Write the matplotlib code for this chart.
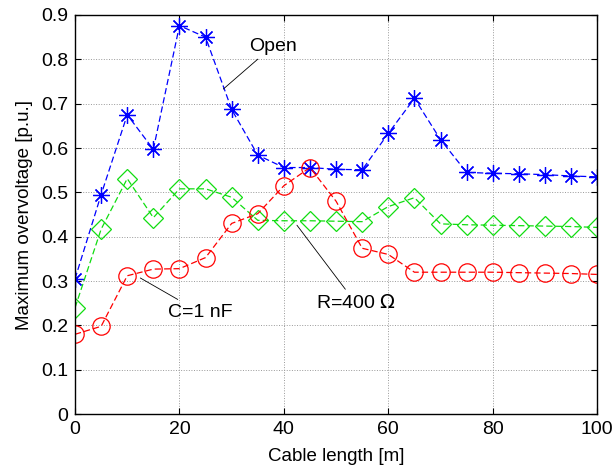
import numpy as np
import matplotlib
matplotlib.use('Agg')
import matplotlib.pyplot as plt

# cable length [m]
length = [0, 5, 10, 15, 20, 25, 30, 35, 40, 45, 50, 55, 60, 65, 70, 75, 80, 85, 90, 95, 100]

# maximum overvoltage [p.u.] for each termination
v_open = [0.305, 0.495, 0.675, 0.597, 0.876, 0.850, 0.687, 0.584, 0.556, 0.556, 0.552,
          0.551, 0.633, 0.712, 0.619, 0.545, 0.543, 0.542, 0.540, 0.537, 0.535]
v_r400 = [0.240, 0.417, 0.531, 0.443, 0.508, 0.508, 0.489, 0.437, 0.436, 0.436, 0.435,
          0.434, 0.468, 0.488, 0.429, 0.427, 0.426, 0.425, 0.424, 0.423, 0.421]
v_c1nf = [0.180, 0.198, 0.312, 0.327, 0.328, 0.353, 0.430, 0.452, 0.515, 0.556, 0.480,
          0.374, 0.360, 0.320, 0.320, 0.320, 0.320, 0.319, 0.318, 0.317, 0.315]

plt.rcParams['font.family'] = ['Liberation Sans', 'DejaVu Sans']
plt.rcParams['font.size'] = 14

fig = plt.figure(figsize=(6.15, 4.76), dpi=100)
ax = fig.add_axes([0.122, 0.130, 0.849, 0.8385])

ax.plot(length, v_open, linestyle='--', dashes=(5, 2.5), color='#0000ff', lw=0.9,
        marker=(8, 2, 0), markersize=12, markeredgewidth=0.9)
ax.plot(length, v_r400, linestyle='--', dashes=(5, 2.5), color='#11dd11', lw=0.9,
        marker='D', markersize=10, markerfacecolor='none', markeredgewidth=0.9)
ax.plot(length, v_c1nf, linestyle='--', dashes=(5, 2.5), color='#ff0000', lw=0.9,
        marker='o', markersize=12.5, markerfacecolor='none', markeredgewidth=0.9)

arrow = dict(arrowstyle='-', color='k', lw=0.6, shrinkA=2, shrinkB=0)
ax.annotate('Open', xy=(28.4, 0.733), xytext=(37.9, 0.830), ha='center', va='center',
            arrowprops=arrow)
ax.annotate('R=400 $\\Omega$', xy=(42.5, 0.426), xytext=(53.8, 0.250), ha='center', va='center',
            arrowprops=arrow)
ax.annotate('C=1 nF', xy=(12.5, 0.307), xytext=(23.9, 0.230), ha='center', va='center',
            arrowprops=arrow)

ax.set_xlim(0, 100)
ax.set_ylim(0, 0.9)
ax.set_xticks(np.arange(0, 101, 20))
ax.set_yticks(np.arange(0, 0.91, 0.1))
ax.set_yticklabels(['0', '0.1', '0.2', '0.3', '0.4', '0.5', '0.6', '0.7', '0.8', '0.9'])
ax.grid(True, color='#999999', linestyle=':', lw=0.7)
ax.tick_params(direction='in', top=True, right=True, length=4, width=0.8, pad=5)
for s in ax.spines.values():
    s.set_linewidth(1.0)

ax.set_xlabel('Cable length [m]', fontsize=13.5, labelpad=7)
ax.set_ylabel('Maximum overvoltage [p.u.]', fontsize=13.5, labelpad=6)

fig.savefig('out.png', dpi=100)
